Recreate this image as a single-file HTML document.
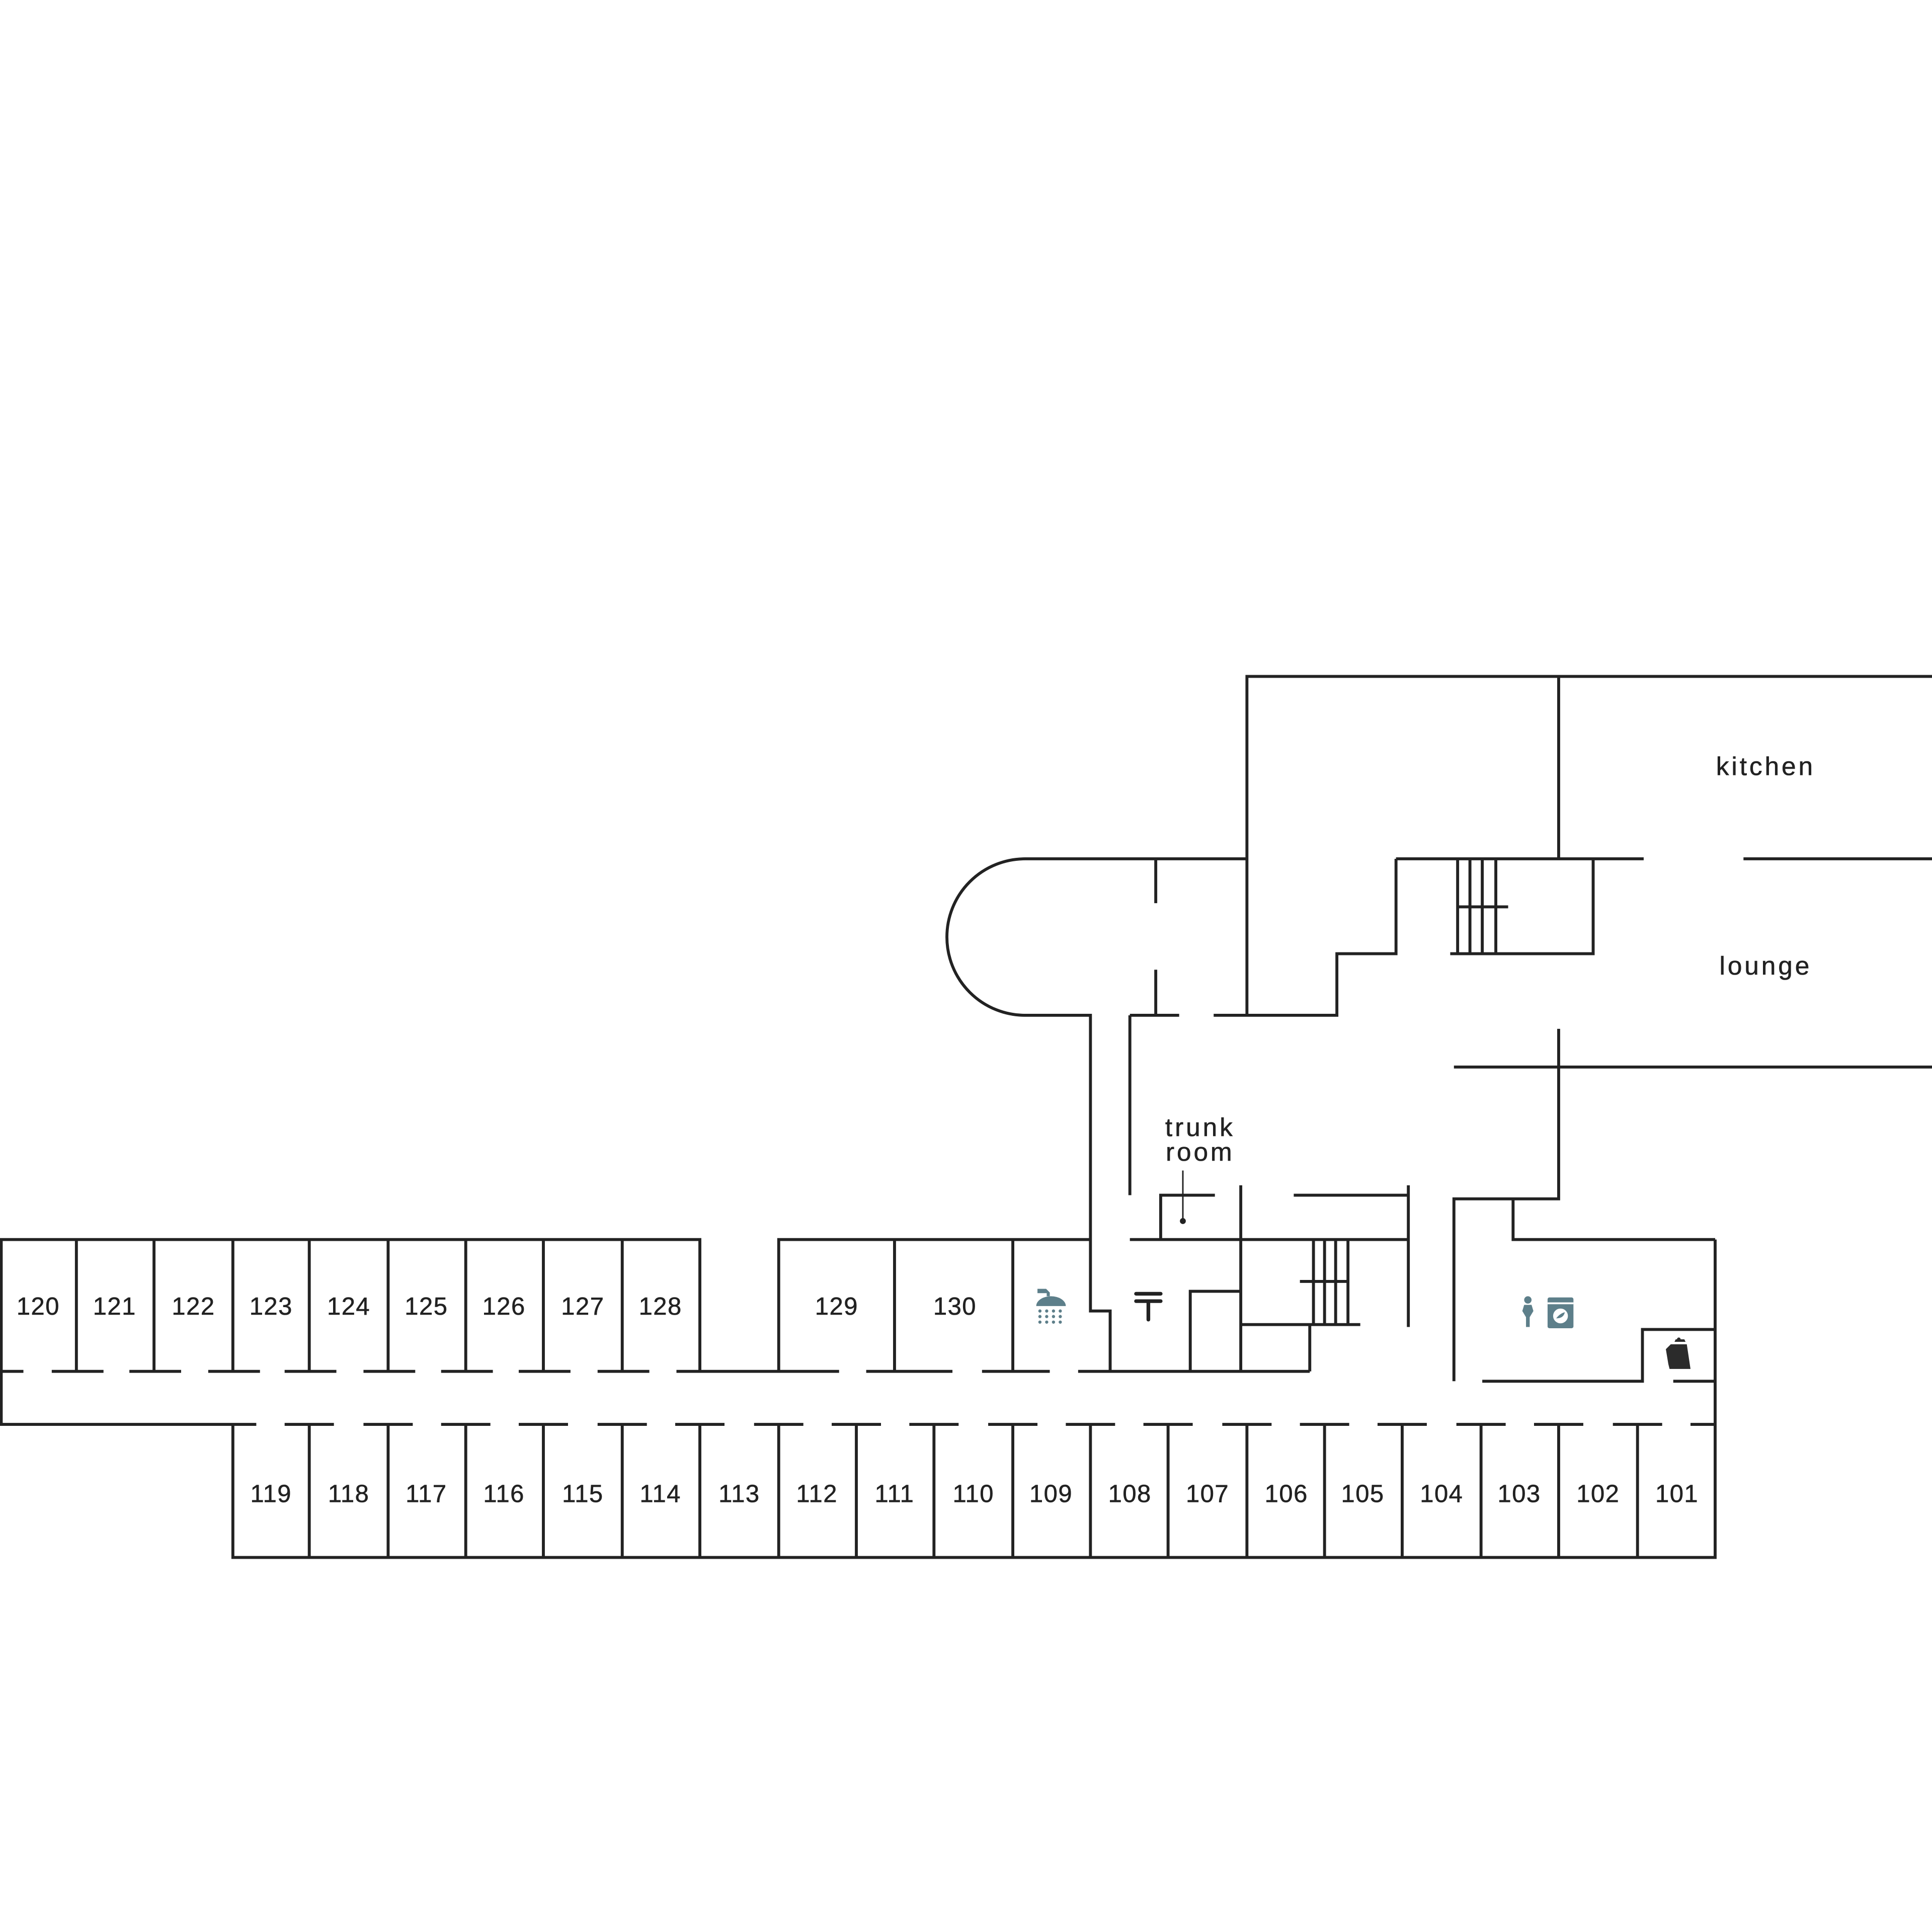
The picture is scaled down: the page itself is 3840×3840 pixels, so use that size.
<!DOCTYPE html>
<html><head><meta charset="utf-8"><style>
html,body{margin:0;padding:0;background:#fff;}
svg{display:block;}
text{font-family:"Liberation Sans",sans-serif;font-size:20px;fill:#222;text-anchor:middle;letter-spacing:0.6px;stroke:#222;stroke-width:0.25px;}
text.big{font-size:21px;letter-spacing:2px;}
</style></head><body>
<svg width="3840" height="3840" viewBox="0 0 1568 1568" xmlns="http://www.w3.org/2000/svg">
<g stroke="#222" stroke-width="2.4" fill="none" stroke-linecap="butt">
<path d="M0 1006H568V1113M632 1113V1006H885"/>
<path d="M1 1006V1156"/>
<path d="M62 1006V1113M125 1006V1113M189 1006V1113M251 1006V1113M315 1006V1113M378 1006V1113M441 1006V1113M505 1006V1113M726 1006V1113M822 1006V1113"/>
<path d="M0 1113H19M42 1113H84M105 1113H147M169 1113H211M231 1113H273M295 1113H337M358 1113H400M421 1113H463M485 1113H527M549 1113H681M703 1113H773M797 1113H852M875 1113H1063"/>
<path d="M0 1156H208M231 1156H271M295 1156H335M358 1156H398M421 1156H461M485 1156H525M548 1156H588M612 1156H652M675 1156H715M738 1156H778M802 1156H842M865 1156H905M928 1156H968M992 1156H1032M1055 1156H1095M1118 1156H1158M1182 1156H1222M1245 1156H1285M1309 1156H1349M1372 1156H1392"/>
<path d="M189 1156V1264H1392V1006"/>
<path d="M251 1156V1264M315 1156V1264M378 1156V1264M441 1156V1264M505 1156V1264M568 1156V1264M632 1156V1264M695 1156V1264M758 1156V1264M822 1156V1264M885 1156V1264M948 1156V1264M1012 1156V1264M1075 1156V1264M1138 1156V1264M1202 1156V1264M1265 1156V1264M1329 1156V1264"/>
<path d="M1012 824V549H1568M1265 549V697"/>
<path d="M1133 697H1334M1415 697H1568"/>
<path d="M1012 697H832A63.5 63.5 0 0 0 832 824H885V1064H901V1113"/>
<path d="M938 697V733M938 787V824"/>
<path d="M917 824H957M985 824H1085V774H1133V697"/>
<path d="M1293 697V774H1177"/>
<path d="M1183 697V774M1193 697V774M1203 697V774M1214 697V774M1183 736H1224"/>
<path d="M1265 835V973H1180V1121M1180 866H1568"/>
<path d="M1228 973V1006H1392"/>
<path d="M1203 1121H1333V1079H1392M1358 1121H1392"/>
<path d="M917 824V970"/>
<path d="M917 1006H1143M1143 962V1077M1050 970H1143"/>
<path d="M942 1006V970H986"/>
<path d="M1007 962V1113"/>
<path d="M1066 1006V1075M1075 1006V1075M1084 1006V1075M1094 1006V1075M1055 1040H1094"/>
<path d="M1007 1075H1104M1063 1075V1113"/>
<path d="M966 1113V1048H1007"/>
<path d="M960 950V990" stroke-width="1.2"/>
</g>
<circle cx="960" cy="991" r="2.4" fill="#222"/>
<g fill="#5d7f8a">
<path d="M842 1046h7l3 3v3h-2.5v-2.5h-7.5z"/>
<path d="M841 1060a12 8 0 0 1 24 0z"/>
<circle cx="844" cy="1064" r="1.3"/><circle cx="849.5" cy="1064" r="1.3"/><circle cx="855" cy="1064" r="1.3"/><circle cx="860.5" cy="1064" r="1.3"/>
<circle cx="844" cy="1068.5" r="1.3"/><circle cx="849.5" cy="1068.5" r="1.3"/><circle cx="855" cy="1068.5" r="1.3"/><circle cx="860.5" cy="1068.5" r="1.3"/>
<circle cx="844" cy="1073" r="1.3"/><circle cx="849.5" cy="1073" r="1.3"/><circle cx="855" cy="1073" r="1.3"/><circle cx="860.5" cy="1073" r="1.3"/>
<circle cx="1240" cy="1055" r="3"/>
<path d="M1237 1059h6l1.5 5-3 5v8h-3v-8l-3-5z"/>
<rect x="1256" y="1053" width="21" height="25" rx="1.5"/>
</g>
<rect x="1256" y="1057" width="21" height="1.5" fill="#fff"/>
<circle cx="1266.5" cy="1068" r="6" fill="#fff"/>
<path d="M1263 1070q3-4 7-5q-1 5-7 5z" fill="#5d7f8a"/>
<g stroke="#222" stroke-width="3" stroke-linecap="round">
<path d="M922 1050H942M922 1056H942M932 1056V1071"/>
</g>
<g fill="#2b2b2b">
<path d="M1356 1091h13l3 20h-17l-1-4-2-12z"/>
<path d="M1359 1089h9l-1 -2h-7z"/>
<circle cx="1362.5" cy="1087" r="1.5"/>
</g>
<text class="big" x="1433" y="629">kitchen</text>
<text class="big" x="1433" y="791">lounge</text>
<text class="big" x="974" y="922">trunk</text>
<text class="big" x="974" y="942">room</text>
<g>
<text x="31" y="1067">120</text><text x="93" y="1067">121</text><text x="157" y="1067">122</text><text x="220" y="1067">123</text><text x="283" y="1067">124</text><text x="346" y="1067">125</text><text x="409" y="1067">126</text><text x="473" y="1067">127</text><text x="536" y="1067">128</text><text x="679" y="1067">129</text><text x="775" y="1067">130</text>
<text x="220" y="1219">119</text><text x="283" y="1219">118</text><text x="346" y="1219">117</text><text x="409" y="1219">116</text><text x="473" y="1219">115</text><text x="536" y="1219">114</text><text x="600" y="1219">113</text><text x="663" y="1219">112</text><text x="726" y="1219">111</text><text x="790" y="1219">110</text><text x="853" y="1219">109</text><text x="917" y="1219">108</text><text x="980" y="1219">107</text><text x="1044" y="1219">106</text><text x="1106" y="1219">105</text><text x="1170" y="1219">104</text><text x="1233" y="1219">103</text><text x="1297" y="1219">102</text><text x="1361" y="1219">101</text>
</g>
</svg>
</body></html>
